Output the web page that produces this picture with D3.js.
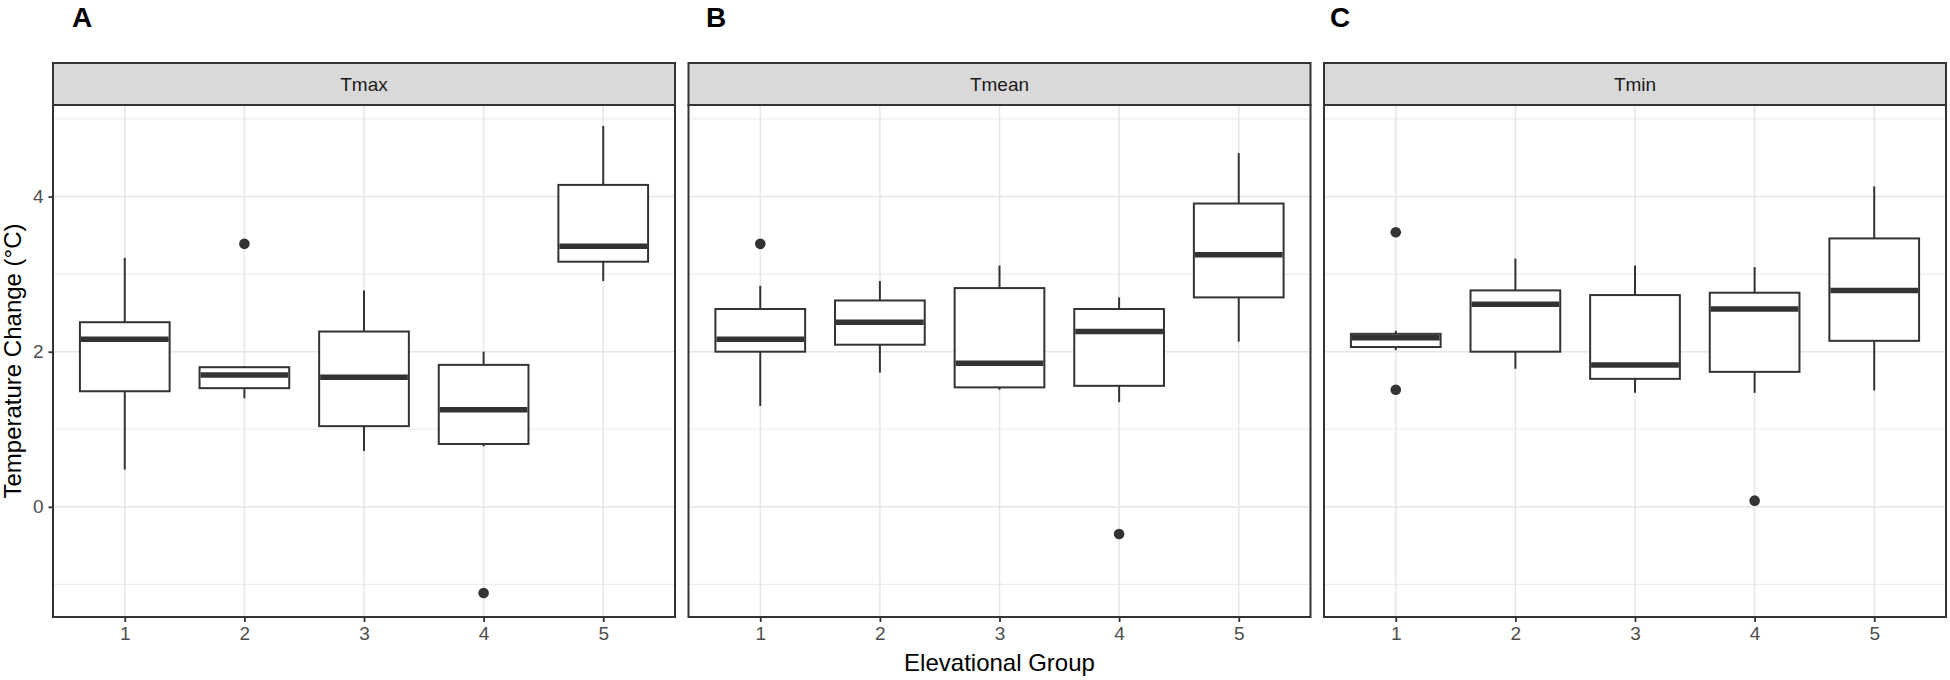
<!DOCTYPE html>
<html>
<head>
<meta charset="utf-8">
<script src="https://d3js.org/d3.v7.min.js"></script>
<style>
  body { margin: 0; background: #fff; }
  svg { display: block; font-family: "Liberation Sans", Arial, sans-serif; }
</style>
</head>
<body>
<script>
const facets = ["Tmax", "Tmean", "Tmin"];
const panelTags = ["A", "B", "C"];
const groups = ["1", "2", "3", "4", "5"];
const yMajorTicks = [0, 2, 4];
const yMinorTicks = [-1, 1, 3, 5];

// one row per elevational group: [lower whisker, Q1, median, Q3, upper whisker]
const tmaxBoxes = [
  [0.48, 1.49, 2.16, 2.38, 3.21],
  [1.40, 1.53, 1.70, 1.80, 1.81],
  [0.72, 1.04, 1.67, 2.26, 2.79],
  [0.78, 0.81, 1.25, 1.83, 2.00],
  [2.91, 3.16, 3.36, 4.15, 4.91]
];
const tmeanBoxes = [
  [1.30, 2.00, 2.16, 2.55, 2.85],
  [1.73, 2.09, 2.38, 2.66, 2.91],
  [1.51, 1.54, 1.85, 2.82, 3.11],
  [1.35, 1.56, 2.26, 2.55, 2.70],
  [2.13, 2.70, 3.25, 3.91, 4.56]
];
const tminBoxes = [
  [2.02, 2.06, 2.18, 2.23, 2.27],
  [1.78, 2.00, 2.61, 2.79, 3.20],
  [1.47, 1.65, 1.83, 2.73, 3.11],
  [1.47, 1.74, 2.55, 2.76, 3.09],
  [1.50, 2.14, 2.79, 3.46, 4.13]
];

// [group, value]
const tmaxOutliers = [["2", 3.39], ["4", -1.11]];
const tmeanOutliers = [["1", 3.39], ["4", -0.35]];
const tminOutliers = [["1", 3.54], ["1", 1.51], ["4", 0.08]];

const boxesByFacet = [tmaxBoxes, tmeanBoxes, tminBoxes];
const outliersByFacet = [tmaxOutliers, tmeanOutliers, tminOutliers];

// layout
const width = 1950, height = 680;
const stripTop = 63, panelTop = 105, panelBottom = 617;
const panelX0 = 53, panelW = 622, panelGap = 13.5;
const tagX = [82, 716, 1340];
const ink = "#333333";

const svg = d3.select("body").append("svg")
  .attr("width", width)
  .attr("height", height);

const y = d3.scaleLinear()
  .domain([-1.42, 5.18])
  .range([panelBottom, panelTop]);

facets.forEach(function(facet, i) {
  const left = panelX0 + i * (panelW + panelGap);
  const x = d3.scalePoint()
    .domain(groups)
    .range([0, panelW])
    .padding(0.6);
  const bw = x.step() * 0.75;

  const g = svg.append("g").attr("transform", "translate(" + left + ",0)");

  // grid
  g.selectAll(".minor").data(yMinorTicks).enter().append("line")
    .attr("x1", 0).attr("x2", panelW)
    .attr("y1", d => y(d)).attr("y2", d => y(d))
    .attr("stroke", "#ececec").attr("stroke-width", 1.2);
  g.selectAll(".major").data(yMajorTicks).enter().append("line")
    .attr("x1", 0).attr("x2", panelW)
    .attr("y1", d => y(d)).attr("y2", d => y(d))
    .attr("stroke", "#e6e6e6").attr("stroke-width", 1.5);
  g.selectAll(".vgrid").data(groups).enter().append("line")
    .attr("x1", d => x(d)).attr("x2", d => x(d))
    .attr("y1", panelTop).attr("y2", panelBottom)
    .attr("stroke", "#e6e6e6").attr("stroke-width", 1.5);

  const rows = boxesByFacet[i].map(function(b, j) {
    return { group: groups[j], lo: b[0], q1: b[1], med: b[2], q3: b[3], hi: b[4] };
  });

  const box = g.selectAll(".box").data(rows).enter().append("g");

  box.append("line")
    .attr("x1", d => x(d.group)).attr("x2", d => x(d.group))
    .attr("y1", d => y(d.lo)).attr("y2", d => y(d.hi))
    .attr("stroke", ink).attr("stroke-width", 2);

  box.append("rect")
    .attr("x", d => x(d.group) - bw / 2)
    .attr("width", bw)
    .attr("y", d => y(d.q3))
    .attr("height", d => y(d.q1) - y(d.q3))
    .attr("fill", "#fff")
    .attr("stroke", ink).attr("stroke-width", 2);

  box.append("line")
    .attr("x1", d => x(d.group) - bw / 2 + 1).attr("x2", d => x(d.group) + bw / 2 - 1)
    .attr("y1", d => y(d.med)).attr("y2", d => y(d.med))
    .attr("stroke", ink).attr("stroke-width", 5.5);

  g.selectAll(".out").data(outliersByFacet[i]).enter().append("circle")
    .attr("cx", d => x(d[0]))
    .attr("cy", d => y(d[1]))
    .attr("r", 5.3)
    .attr("fill", ink);

  // panel border + strip
  g.append("rect")
    .attr("x", 0).attr("y", panelTop)
    .attr("width", panelW).attr("height", panelBottom - panelTop)
    .attr("fill", "none").attr("stroke", ink).attr("stroke-width", 2);
  g.append("rect")
    .attr("x", 0).attr("y", stripTop)
    .attr("width", panelW).attr("height", panelTop - stripTop)
    .attr("fill", "#d9d9d9").attr("stroke", ink).attr("stroke-width", 2);
  g.append("text")
    .attr("x", panelW / 2).attr("y", (stripTop + panelTop) / 2)
    .attr("dy", "0.36em")
    .attr("text-anchor", "middle")
    .attr("font-size", 19)
    .attr("fill", "#1a1a1a")
    .text(facet);

  // x axis
  const xAxis = g.append("g")
    .attr("transform", "translate(0," + panelBottom + ")")
    .call(d3.axisBottom(x).tickSize(5).tickPadding(5));
  xAxis.select(".domain").remove();
  xAxis.selectAll(".tick line").attr("stroke", ink).attr("stroke-width", 1.8);
  xAxis.selectAll(".tick text")
    .attr("font-size", 19).attr("fill", "#4d4d4d")
    .style("font-family", "'Liberation Sans', Arial, sans-serif");

  // y axis only on the first panel
  if (i === 0) {
    const yAxis = g.append("g")
      .call(d3.axisLeft(y).tickValues(yMajorTicks).tickFormat(d3.format("d")).tickSize(4.5).tickPadding(5));
    yAxis.select(".domain").remove();
    yAxis.selectAll(".tick line").attr("stroke", ink).attr("stroke-width", 1.8);
    yAxis.selectAll(".tick text")
      .attr("font-size", 19).attr("fill", "#4d4d4d")
      .style("font-family", "'Liberation Sans', Arial, sans-serif");
  }

  // panel tag
  svg.append("text")
    .attr("x", tagX[i]).attr("y", 27)
    .attr("text-anchor", "middle")
    .attr("font-size", 28)
    .attr("font-weight", "bold")
    .attr("fill", "#000")
    .text(panelTags[i]);
});

// axis titles
svg.append("text")
  .attr("x", panelX0 + 1 * (panelW + panelGap) + panelW / 2)
  .attr("y", 671)
  .attr("text-anchor", "middle")
  .attr("font-size", 24)
  .attr("fill", "#000")
  .text("Elevational Group");

svg.append("text")
  .attr("transform", "translate(21," + (panelTop + panelBottom) / 2 + ") rotate(-90)")
  .attr("text-anchor", "middle")
  .attr("font-size", 24)
  .attr("fill", "#000")
  .text("Temperature Change (°C)");
</script>
</body>
</html>
